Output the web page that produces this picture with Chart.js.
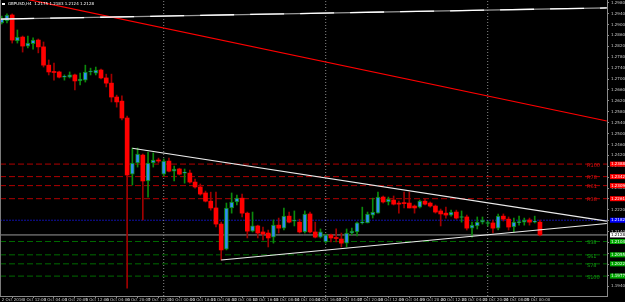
<!DOCTYPE html>
<html>
<head>
<meta charset="utf-8">
<script src="https://cdn.jsdelivr.net/npm/chart.js@4.4.1/dist/chart.umd.min.js"></script>
<style>
  html, body { margin: 0; padding: 0; background: #000; }
  #wrap { width: 625px; height: 302px; }
</style>
</head>
<body>
<div id="wrap"><canvas id="chartGbp" width="625" height="302"></canvas></div>
<script>
// GBPUSD H4, 2 Oct - 25 Oct 2016 (bar index 0 = 2 Oct 20:00)
const symbol = 'GBPUSD,H4';
const opens  = [1.2906,1.2913,1.2935,1.2840,1.2854,1.2821,1.2830,1.2843,1.2818,1.2751,
                1.2726,1.2726,1.2707,1.2707,1.2715,1.2693,1.2696,1.2726,1.2722,1.2733,
                1.2704,1.2685,1.2634,1.2619,1.2557,1.2351,1.2392,1.2421,1.2326,1.2392,
                1.2403,1.2351,1.2399,1.2362,1.2370,1.2355,1.2355,1.2322,1.2304,1.2282,
                1.2252,1.2227,1.2168,1.2076,1.2227,1.2249,1.2263,1.2208,1.2142,1.2161,
                1.2139,1.2135,1.2120,1.2164,1.2153,1.2197,1.2179,1.2175,1.2139,1.2205,
                1.2139,1.2120,1.2102,1.2128,1.2117,1.2113,1.2098,1.2135,1.2139,1.2172,
                1.2172,1.2201,1.2208,1.2267,1.2249,1.2256,1.2245,1.2245,1.2245,1.2234,
                1.2230,1.2252,1.2245,1.2234,1.2216,1.2208,1.2201,1.2212,1.2192,1.2194,
                1.2153,1.2161,1.2175,1.2170,1.2172,1.2153,1.2197,1.2186,1.2157,1.2173,
                1.2175,1.2183,1.2175,1.2175];
const highs  = [1.2931,1.2939,1.2939,1.2880,1.2858,1.2858,1.2851,1.2847,1.2836,1.2770,
                1.2759,1.2729,1.2715,1.2726,1.2718,1.2722,1.2751,1.2740,1.2744,1.2737,
                1.2718,1.2718,1.2641,1.2638,1.2564,1.2447,1.2447,1.2425,1.2432,1.2429,
                1.2410,1.2407,1.2410,1.2381,1.2373,1.2370,1.2366,1.2333,1.2315,1.2289,
                1.2285,1.2285,1.2175,1.2245,1.2282,1.2274,1.2278,1.2212,1.2212,1.2164,
                1.2157,1.2146,1.2183,1.2190,1.2227,1.2212,1.2216,1.2186,1.2216,1.2212,
                1.2175,1.2150,1.2131,1.2131,1.2150,1.2135,1.2150,1.2153,1.2175,1.2230,
                1.2212,1.2263,1.2285,1.2271,1.2267,1.2271,1.2252,1.2285,1.2285,1.2238,
                1.2256,1.2260,1.2249,1.2238,1.2223,1.2230,1.2219,1.2219,1.2216,1.2201,
                1.2175,1.2194,1.2194,1.2179,1.2183,1.2205,1.2205,1.2194,1.2190,1.2197,
                1.2190,1.2190,1.2197,1.2183];
const lows   = [1.2902,1.2906,1.2832,1.2832,1.2799,1.2814,1.2810,1.2796,1.2744,1.2715,
                1.2696,1.2704,1.2696,1.2704,1.2660,1.2678,1.2689,1.2715,1.2715,1.2700,
                1.2671,1.2616,1.2597,1.2550,1.1933,1.2311,1.2377,1.2183,1.2267,1.2377,
                1.2392,1.2344,1.2359,1.2326,1.2348,1.2318,1.2318,1.2300,1.2274,1.2249,
                1.2219,1.2157,1.2036,1.2073,1.2208,1.2238,1.2194,1.2117,1.2139,1.2117,
                1.2109,1.2084,1.2098,1.2135,1.2146,1.2172,1.2161,1.2135,1.2135,1.2135,
                1.2117,1.2117,1.2098,1.2102,1.2102,1.2084,1.2084,1.2128,1.2124,1.2168,
                1.2172,1.2190,1.2208,1.2245,1.2238,1.2238,1.2208,1.2227,1.2227,1.2208,
                1.2227,1.2238,1.2230,1.2208,1.2161,1.2190,1.2197,1.2186,1.2175,1.2146,
                1.2120,1.2150,1.2168,1.2161,1.2135,1.2146,1.2179,1.2146,1.2139,1.2164,
                1.2164,1.2164,1.2172,1.2124];
const closes = [1.2920,1.2935,1.2843,1.2854,1.2821,1.2832,1.2843,1.2818,1.2751,1.2726,
                1.2724,1.2707,1.2709,1.2715,1.2693,1.2700,1.2726,1.2728,1.2733,1.2704,
                1.2685,1.2634,1.2616,1.2557,1.2348,1.2392,1.2425,1.2326,1.2392,1.2403,
                1.2399,1.2399,1.2362,1.2370,1.2351,1.2357,1.2322,1.2304,1.2278,1.2252,
                1.2227,1.2168,1.2073,1.2227,1.2249,1.2263,1.2208,1.2142,1.2161,1.2135,
                1.2131,1.2117,1.2164,1.2153,1.2197,1.2175,1.2183,1.2139,1.2205,1.2139,
                1.2120,1.2139,1.2128,1.2117,1.2115,1.2098,1.2135,1.2142,1.2172,1.2175,
                1.2205,1.2212,1.2267,1.2249,1.2260,1.2241,1.2241,1.2243,1.2227,1.2227,
                1.2252,1.2241,1.2234,1.2212,1.2205,1.2201,1.2212,1.2190,1.2194,1.2153,
                1.2164,1.2175,1.2183,1.2172,1.2153,1.2197,1.2186,1.2157,1.2175,1.2175,
                1.2183,1.2175,1.2177,1.2128];

const tickBars   = [0,4,8,12,16,20,24,28,32,36,40,44,48,52,56,60,64,68,72,76,80,84,88,92,96,100];
const timeLabels = ['2 Oct 2016','3 Oct 12:00','4 Oct 04:00','4 Oct 20:00','5 Oct 12:00','6 Oct 04:00',
                    '6 Oct 20:00','7 Oct 12:00','10 Oct 00:00','10 Oct 16:00','11 Oct 08:00','12 Oct 00:00',
                    '12 Oct 16:00','13 Oct 08:00','14 Oct 00:00','14 Oct 16:00','17 Oct 04:00','17 Oct 20:00',
                    '18 Oct 12:00','19 Oct 04:00','19 Oct 20:00','20 Oct 12:00','21 Oct 04:00','21 Oct 20:00',
                    '24 Oct 08:00','25 Oct 00:00'];
const weekStarts = [31, 62, 93];
const priceTicks = [1.2980,1.2940,1.2900,1.2860,1.2820,1.2780,1.2740,1.2700,1.2660,1.2620,1.2580,
                    1.2540,1.2500,1.2460,1.2420,1.2380,1.2340,1.2300,1.2260,1.2220,1.2180,1.2140,
                    1.2100,1.2060,1.2020,1.1980,1.1940];

const fibLevels = [1.2388, 1.2342, 1.2309, 1.2261, 1.2104, 1.2055, 1.2022, 1.1977];
const fibNames  = ['R100', 'R78', 'R61', 'R38', 'S38', 'S61', 'S78', 'S100'];
const pivot = 1.2182;

const trendTop = [[-0.3, 1.2920], [115.8, 1.2961]];
const trendRed = [[0, 1.3012], [115.8, 1.2546]];
const triUpper = [[25, 1.2446], [115.8, 1.2179]];
const triLower = [[42, 1.2036], [115.8, 1.2170]];

const xMin = -0.33, xMax = 115.83;
const yMin = 1.1904, yMax = 1.2990;

const upBody = '#2f8ff0', upLine = '#0b8a0b';
const dnBody = '#ff0000', dnLine = '#a00000';
const font4 = { family: 'DejaVu Sans', size: 4 };

const isUp = i => closes[i] >= opens[i];
const wickData = opens.map((o, i) => ({ x: i, y: [lows[i], highs[i]] }));
const bodyData = opens.map((o, i) => ({ x: i, y: [Math.min(o, closes[i]), Math.max(o, closes[i])] }));

function seg(points, color, dash, order, width) {
    return {
        type: 'line',
        data: points.map(p => ({ x: p[0], y: p[1] })),
        borderColor: color,
        borderWidth: width || 1,
        borderDash: dash,
        pointRadius: 0,
        fill: false,
        tension: 0,
        order: order
    };
}

const datasets = [];
fibLevels.forEach((v, i) => {
    datasets.push(seg([[xMin, v], [xMax, v]], i < 4 ? '#b00000' : '#006a00', [6, 3], 20));
});
datasets.push(seg([[xMin, pivot], [xMax, pivot]], '#1010a8', [2, 1], 19));
datasets.push(seg([[xMin, closes[closes.length - 1]], [xMax, closes[closes.length - 1]]], '#9a9a9a', [], 19));
weekStarts.forEach(w => datasets.push(seg([[w, yMin], [w, yMax]], '#8a8a8a', [1, 2], 18)));

datasets.push({
    type: 'bar', data: wickData, grouped: false, barThickness: 1, order: 6,
    backgroundColor: ctx => isUp(ctx.dataIndex) ? upLine : dnLine
});
datasets.push({
    type: 'bar', data: bodyData, grouped: false, barThickness: 4, minBarLength: 1, order: 5,
    borderSkipped: false,
    borderWidth: ctx => isUp(ctx.dataIndex) && closes[ctx.dataIndex] !== opens[ctx.dataIndex] ? 1 : 0,
    borderColor: upLine,
    backgroundColor: ctx => {
        const i = ctx.dataIndex;
        if (closes[i] === opens[i]) return upLine;
        return isUp(i) ? upBody : dnBody;
    }
});

datasets.push(seg(trendTop, '#9a9a9a', [], 3, 1.3));
datasets.push(seg(trendTop, '#ffffff', [34, 16], 2, 1.3));
datasets.push(seg(trendRed, '#ff0000', [], 2, 1.2));
datasets.push(seg(triUpper, '#ececec', [], 1, 1.2));
datasets.push(seg(triLower, '#ececec', [], 1, 1.2));

const mt4Overlay = {
    id: 'mt4Overlay',
    beforeDraw(chart) {
        const c = chart.ctx;
        c.save();
        c.fillStyle = '#000';
        c.fillRect(0, 0, chart.width, chart.height);
        c.restore();
    },
    afterDraw(chart) {
        const c = chart.ctx;
        const ys = chart.scales.y;
        const a = chart.chartArea;
        const n = closes.length - 1;
        c.save();
        // left frame
        c.fillStyle = '#7a7a7a';
        c.fillRect(0, a.top, 1, a.bottom - a.top);

        // header
        c.font = '4px "DejaVu Sans"';
        c.textBaseline = 'middle';
        c.fillStyle = '#ffffff';
        c.fillRect(2, 3, 3, 2);
        c.fillText(`${symbol}  ${opens[n].toFixed(4)} ${highs[n].toFixed(4)} ${lows[n].toFixed(4)} ${closes[n].toFixed(4)}`, 8, 4);

        // fib names
        c.font = '5px "DejaVu Sans"';
        fibLevels.forEach((v, i) => {
            const y = ys.getPixelForValue(v);
            c.fillStyle = i < 4 ? '#e01010' : '#12a012';
            c.fillText(fibNames[i], a.right - 20, y + 1.5);
        });

        // price boxes on the axis
        c.font = '4px "DejaVu Sans"';
        const box = (v, bg, fg) => {
            const y = ys.getPixelForValue(v);
            c.fillStyle = bg;
            c.fillRect(ys.left + 3, y - 2.5, chart.width - ys.left - 3, 5);
            c.fillStyle = fg;
            c.fillText(v.toFixed(4), ys.left + 4, y);
        };
        fibLevels.forEach((v, i) => box(v, i < 4 ? '#ff0000' : '#00a800', '#ffffff'));
        box(pivot, '#0000ff', '#ffffff');
        box(closes[n], '#ffffff', '#000000');
        c.restore();
    }
};

new Chart(document.getElementById('chartGbp'), {
    type: 'bar',
    data: { datasets: datasets },
    options: {
        responsive: false,
        animation: false,
        layout: { padding: 0 },
        plugins: { legend: { display: false }, tooltip: { enabled: false } },
        scales: {
            x: {
                type: 'linear',
                min: xMin,
                max: xMax,
                offset: false,
                afterBuildTicks: s => { s.ticks = tickBars.map(v => ({ value: v })); },
                afterFit: s => { s.height = 6; s.paddingLeft = 0; s.paddingRight = 0; },
                ticks: {
                    autoSkip: false,
                    maxRotation: 0,
                    align: 'start',
                    padding: 0,
                    color: '#c8c8c8',
                    font: font4,
                    callback: v => timeLabels[tickBars.indexOf(v)]
                },
                grid: { drawOnChartArea: false, color: '#8a8a8a', tickLength: 2 },
                border: { color: '#8a8a8a' }
            },
            y: {
                position: 'right',
                min: yMin,
                max: yMax,
                afterBuildTicks: s => { s.ticks = priceTicks.map(v => ({ value: v })); },
                afterFit: s => { s.width = 18; s.paddingTop = 0; s.paddingBottom = 0; },
                ticks: {
                    padding: 2,
                    color: '#c8c8c8',
                    font: font4,
                    callback: v => v.toFixed(4)
                },
                grid: { drawOnChartArea: false, color: '#8a8a8a', tickLength: 2 },
                border: { color: '#8a8a8a' }
            }
        }
    },
    plugins: [mt4Overlay]
});
</script>
</body>
</html>
